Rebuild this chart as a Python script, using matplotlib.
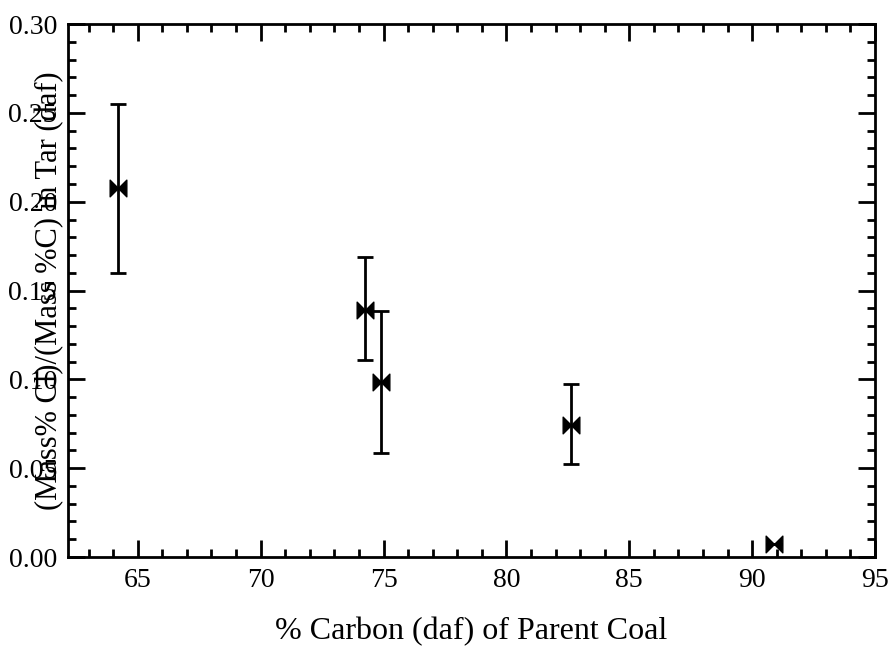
import numpy as np
import matplotlib
matplotlib.use('Agg')
import matplotlib.pyplot as plt
from matplotlib.path import Path
from matplotlib.ticker import MultipleLocator, FormatStrFormatter

carbon = [64.2, 74.25, 74.9, 82.65, 90.9]
ratio = [0.208, 0.139, 0.0985, 0.0743, 0.0073]
err_hi = [0.047, 0.030, 0.040, 0.023, 0.0]
err_lo = [0.048, 0.028, 0.040, 0.022, 0.0]

plt.rcParams['font.family'] = ['Liberation Serif', 'DejaVu Serif']

# bowtie marker: two triangles pointing inward
verts = [(-1, 1), (0, 0), (-1, -1), (-1, 1), (1, 1), (0, 0), (1, -1), (1, 1)]
codes = [Path.MOVETO, Path.LINETO, Path.LINETO, Path.CLOSEPOLY,
         Path.MOVETO, Path.LINETO, Path.LINETO, Path.CLOSEPOLY]
bowtie = Path(verts, codes)

fig = plt.figure(figsize=(8.9, 6.53), dpi=100)
ax = fig.add_axes([0.0764, 0.147, 0.9067, 0.816])

ax.errorbar(carbon, ratio, yerr=[err_lo, err_hi], fmt='none', ecolor='black',
            elinewidth=2, capsize=6, capthick=2)
ax.plot(carbon, ratio, linestyle='none', marker=bowtie, markersize=12,
        color='black')

ax.set_xlim(62.16, 95)
ax.set_ylim(0, 0.30)
ax.xaxis.set_major_locator(MultipleLocator(5))
ax.xaxis.set_minor_locator(MultipleLocator(1))
ax.yaxis.set_major_locator(MultipleLocator(0.05))
ax.yaxis.set_minor_locator(MultipleLocator(0.01))
ax.yaxis.set_major_formatter(FormatStrFormatter('%.2f'))

for s in ax.spines.values():
    s.set_linewidth(2)
ax.tick_params(which='both', direction='in', top=True, right=True,
               labelsize=20, width=2)
ax.tick_params(which='major', length=12, pad=8)
ax.tick_params(which='minor', length=6)

ax.set_xlabel('% Carbon (daf) of Parent Coal', fontsize=23, labelpad=17)
ax.set_ylabel('(Mass% Cl)/(Mass %C) in Tar (daf)', fontsize=22)
ax.yaxis.set_label_coords(-0.005, 0.5)

fig.savefig('out.png', dpi=100)
